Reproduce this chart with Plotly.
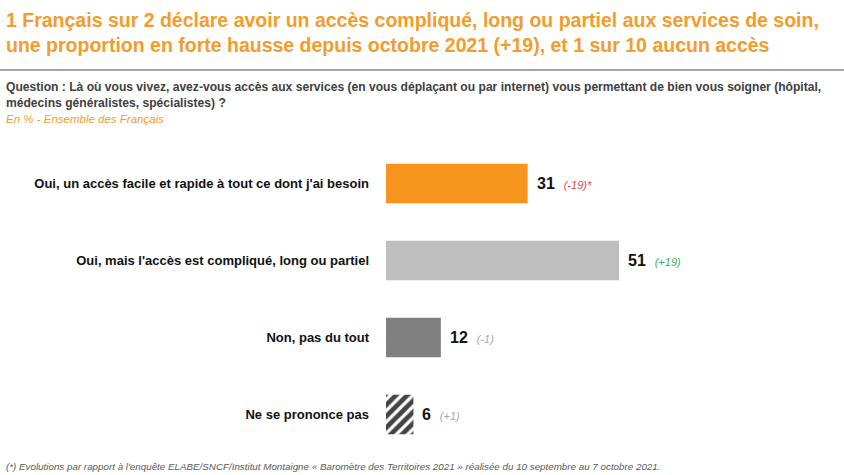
import plotly.graph_objects as go

categories = [
    "Oui, un accès facile et rapide à tout ce dont j'ai besoin",
    "Oui, mais l'accès est compliqué, long ou partiel",
    "Non, pas du tout",
    "Ne se prononce pas",
]
values = [31, 51, 12, 6]
evolutions = ["(-19)*", "(+19)", "(-1)", "(+1)"]
evo_colors = ["#E0474C", "#3DAA5C", "#A6A6A6", "#A6A6A6"]
bar_colors = ["#F7941D", "#BFBFBF", "#808080", "#FFFFFF"]
patterns = ["", "", "", "/"]

title = ("1 Français sur 2 déclare avoir un accès compliqué, long ou partiel aux services de soin,<br>"
         "une proportion en forte hausse depuis octobre 2021 (+19), et 1 sur 10 aucun accès")
question = ("Question : Là où vous vivez, avez-vous accès aux services (en vous déplaçant ou par internet) "
            "vous permettant de bien vous soigner (hôpital,<br>médecins généralistes, spécialistes) ?")
subtitle = "En % - Ensemble des Français"
footnote = ("(*) Evolutions par rapport à l'enquête ELABE/SNCF/Institut Montaigne « Baromètre des Territoires 2021 » "
            "réalisée du 10 septembre au 7 octobre 2021.")

FONT = "Liberation Sans, Arial, sans-serif"
W, H = 844, 475


def fx(px):
    return px / W


def fy(py):
    return 1 - py / H


PXU = 4.57  # pixels per percent

fig = go.Figure()
fig.add_trace(go.Bar(
    x=values, y=categories, orientation="h", width=0.51,
    marker=dict(color=bar_colors, line=dict(width=0),
                pattern=dict(shape=patterns, fgcolor="#000000", bgcolor="#FFFFFF",
                             size=8, solidity=0.6, fgopacity=1)),
    hoverinfo="skip",
))

annotations = []
for c, v, e, ec in zip(categories, values, evolutions, evo_colors):
    annotations.append(dict(
        x=v, y=c, xref="x", yref="y", xanchor="left", yanchor="middle", xshift=7, showarrow=False,
        text=f"<b>{v}</b>  <i><span style='font-size:11px;color:{ec}'>{e}</span></i>",
        font=dict(family=FONT, size=16, color="#111111"),
    ))

annotations += [
    dict(x=fx(4), y=fy(7), xref="paper", yref="paper", xanchor="left", yanchor="top", showarrow=False,
         align="left", text=f"<b>{title}</b>",
         font=dict(family=FONT, size=19.5, color="#F39C2C")),
    dict(x=fx(4), y=fy(78), xref="paper", yref="paper", xanchor="left", yanchor="top", showarrow=False,
         align="left", text=f"<b>{question}</b>",
         font=dict(family=FONT, size=12.1, color="#404040")),
    dict(x=fx(4), y=fy(111), xref="paper", yref="paper", xanchor="left", yanchor="top", showarrow=False,
         align="left", text=f"<i>{subtitle}</i>",
         font=dict(family=FONT, size=11.5, color="#F39C2C")),
    dict(x=fx(4), y=fy(459), xref="paper", yref="paper", xanchor="left", yanchor="top", showarrow=False,
         align="left", text=f"<i>{footnote}</i>",
         font=dict(family=FONT, size=9.8, color="#595959")),
]

fig.update_layout(
    width=W, height=H, margin=dict(l=0, r=0, t=0, b=0),
    paper_bgcolor="white", plot_bgcolor="white", showlegend=False,
    annotations=annotations,
    shapes=[dict(type="line", xref="paper", yref="paper", x0=0, x1=1,
                 y0=fy(70), y1=fy(70), line=dict(color="#A6A6A6", width=2))],
    xaxis=dict(domain=[fx(386), 1], range=[0, (W - 386) / PXU], visible=False, fixedrange=True),
    yaxis=dict(domain=[fy(453), fy(145)], range=[3.5, -0.5], showgrid=False, zeroline=False,
               showline=False, ticks="", ticklabelstandoff=16, fixedrange=True,
               tickfont=dict(family=FONT, size=13, color="#111111", weight="bold")),
)

fig.write_html("out.html", config={"displayModeBar": False},
               post_script="document.body.style.margin='0px';document.body.style.overflow='hidden';")
